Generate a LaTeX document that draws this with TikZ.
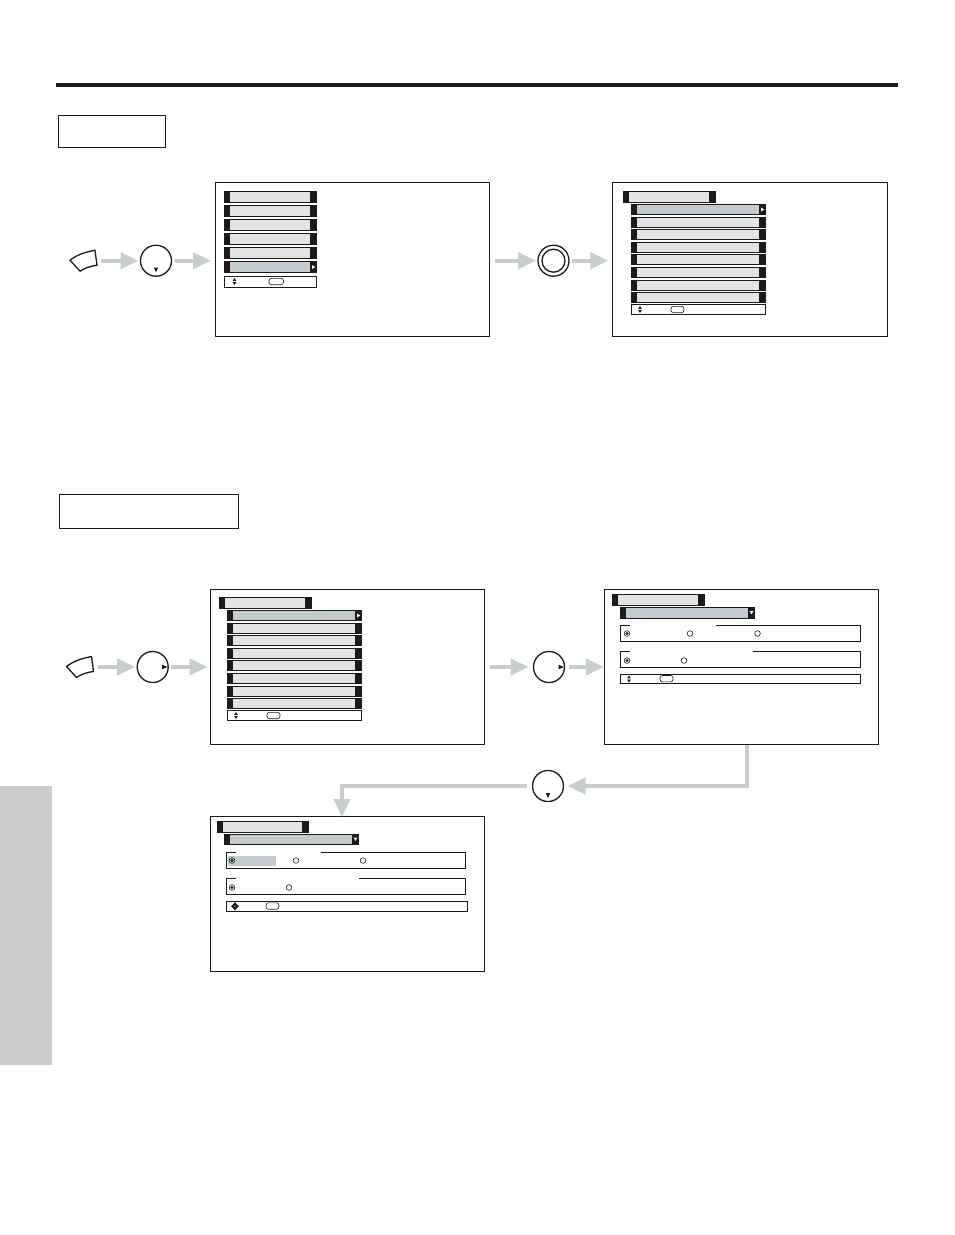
\documentclass[tikz,border=0pt]{standalone}
\usetikzlibrary{arrows.meta}
\definecolor{arrowgray}{HTML}{C9CCCD}
\definecolor{paneLgray}{HTML}{CBCBCB}
\definecolor{itemgray}{HTML}{E2E3E4}
\definecolor{selgray}{HTML}{C5CACC}
\definecolor{inkblack}{HTML}{1C1A1B}
\tikzset{
  every node/.style={inner sep=0pt,outer sep=0pt},
  screenbox/.style={draw=inkblack,line width=1pt,anchor=north west},
  labelbox/.style={draw=inkblack,line width=0.8pt,anchor=north west},
  dial/.style={circle,draw=inkblack,line width=1.3pt,minimum size=31pt},
  remotebtn/.style={minimum width=27pt,minimum height=21pt},
  garrow/.style={draw=arrowgray,line width=4pt,-{Triangle[length=18pt,width=16pt]}},
  thinbox/.style={draw=inkblack,line width=0.8pt},
  tinymark/.style={fill=inkblack},
}
% outer bar: x0,y0,x1,y1,inner colour
\newcommand{\mbar}[5]{%
  \fill[inkblack] (#1,#2) rectangle (#3,#4);
  \fill[#5] (#1+6,#2+1) rectangle (#3-7,#4-1);
}
\newcommand{\rmark}[2]{\fill[white] (#1-1.5,#2-2) -- (#1+1.8,#2) -- (#1-1.5,#2+2) -- cycle;}
\newcommand{\dmark}[2]{\fill[white] (#1-2,#2-1.5) -- (#1+2,#2-1.5) -- (#1,#2+1.8) -- cycle;}
\newcommand{\updown}[2]{%
  \fill[tinymark] (#1-1.8,#2-0.7) -- (#1+1.8,#2-0.7) -- (#1,#2-3.5) -- cycle;
  \fill[tinymark] (#1-1.8,#2+0.7) -- (#1+1.8,#2+0.7) -- (#1,#2+3.5) -- cycle;}
\newcommand{\okoval}[3]{\draw[inkblack,line width=0.6pt,rounded corners=2.5pt] (#1,#2-3.2) rectangle (#1+#3,#2+3.2);}
\newcommand{\radiooff}[2]{\draw[inkblack,line width=0.6pt] (#1,#2) circle (2.8);}
\newcommand{\radioon}[2]{\draw[inkblack,line width=0.6pt] (#1,#2) circle (2.8);\fill[inkblack] (#1,#2) circle (1.7);}
\newcommand{\groupbox}[6]{\draw[thinbox] (#5,#2) -- (#1,#2) -- (#1,#4) -- (#3,#4) -- (#3,#2) -- (#6,#2);}
\newcommand{\remotekey}[2]{%
  \node[remotebtn] (#1) at #2 {};
  \draw[inkblack,line width=1.3pt,line join=round] ([shift={(-13.5,-0.5)}]#1.center)
    .. controls ([shift={(-6,-6.5)}]#1.center) and ([shift={(4,-9)}]#1.center) .. ([shift={(11.5,-10.5)}]#1.center)
    -- ([shift={(13.5,4.5)}]#1.center)
    .. controls ([shift={(6,5.5)}]#1.center) and ([shift={(1,7.5)}]#1.center) .. ([shift={(-3.5,10.5)}]#1.center)
    -- cycle;}
\begin{document}
\begin{tikzpicture}[x=1pt,y=-1pt]
\useasboundingbox (0,0) rectangle (954,1235);
\fill[white] (0,0) rectangle (954,1235);
% page furniture
\fill[paneLgray] (0,786) rectangle (52,1065);
\fill[inkblack] (56,83) rectangle (898,87);
\node[labelbox,minimum width=107pt,minimum height=32.5pt] (label1) at (58,115) {};
\node[labelbox,minimum width=179pt,minimum height=34pt] (label2) at (59,494) {};
% screens
\node[screenbox,minimum width=274pt,minimum height=153.5pt] (s1) at (215.5,182.5) {};
\node[screenbox,minimum width=274.5pt,minimum height=153.5pt] (s2) at (612.8,182.5) {};
\node[screenbox,minimum width=274pt,minimum height=154.5pt] (s3) at (210.5,589.5) {};
\node[screenbox,minimum width=273.8pt,minimum height=154.5pt] (s4) at (604.5,589.5) {};
\node[screenbox,minimum width=274pt,minimum height=154.5pt] (s5) at (210.5,816.5) {};
% screen 1 contents
\foreach \y in {191,205,219,233,247}{\mbar{224}{\y}{317}{\y+12}{itemgray}}
\mbar{224}{261}{317}{273}{selgray}
\rmark{313.5}{267}
\draw[thinbox] (224.5,276) rectangle (316.5,287);
\updown{234.5}{281.5}
\okoval{269}{281.5}{14.5}
% menu list used by screens 2 and 3
\foreach \dx/\dy in {0/0,-404/406}{
\begin{scope}[shift={(\dx,\dy)}]
  \mbar{623}{191}{716}{203}{itemgray}
  \mbar{631}{204}{766}{215}{selgray}
  \rmark{762.5}{209.5}
  \foreach \y/\yy in {217/227.5,229/240,242/252.5,254/265,267/277.5,280/290.5,292/302.5}{\mbar{631}{\y}{766}{\yy}{itemgray}}
  \draw[thinbox] (631.5,304.5) rectangle (765.5,314.5);
  \updown{640}{309.5}
  \okoval{671}{309.5}{13}
\end{scope}}
% screen 4 contents
\mbar{612}{594}{705}{606}{itemgray}
\mbar{620}{607}{755}{618.5}{selgray}
\dmark{751.5}{612.5}
\groupbox{620.5}{625.5}{860}{641.5}{630}{716}
\radioon{627}{633.5}\radiooff{690}{633.5}\radiooff{757.5}{633.5}
\groupbox{620.5}{651.5}{860}{667}{630}{753}
\radioon{627}{660.5}\radiooff{684}{660.5}
\draw[thinbox] (620.5,674.5) rectangle (860,683.5);
\updown{629}{679}
\okoval{660}{678.7}{13}
% screen 5 contents
\mbar{217}{821}{309}{833}{itemgray}
\mbar{224}{834}{359}{844.5}{selgray}
\dmark{355.5}{839}
\fill[selgray] (228,856) rectangle (276,866);
\groupbox{226.5}{852}{465.5}{868.5}{236}{321}
\radioon{232}{860.5}\radiooff{296}{860.5}\radiooff{363}{860.5}
\groupbox{226.5}{878.5}{465.5}{894.5}{236}{359}
\radioon{232}{887.5}\radiooff{289}{887.5}
\draw[thinbox] (226.5,901.5) rectangle (467,911);
\fill[tinymark] (235,902) -- (237,904.5) -- (239,906.2) -- (237,908) -- (235,910.5) -- (233,908) -- (231,906.2) -- (233,904.5) -- cycle;
\fill[white] (235,906.2) circle (0.7);
\okoval{266}{906}{13}
% controls
\remotekey{remote1}{(83.5,260.7)}
\node[dial] (dial1) at (156,260.7) {};
\fill[tinymark] (153.7,267.5) -- (158.3,267.5) -- (156,272) -- cycle;
\node[dial] (dial2) at (553.5,260.7) {};
\node[circle,draw=inkblack,line width=1.3pt,minimum size=23pt] (dial2in) at (553.5,260.7) {};
\remotekey{remote2}{(80,667)}
\node[dial] (dial3) at (152.7,667) {};
\fill[tinymark] (162,664.7) -- (162,669.3) -- (167.5,667) -- cycle;
\node[dial] (dial4) at (549,667) {};
\fill[tinymark] (558.5,664.7) -- (558.5,669.3) -- (564,667) -- cycle;
\node[dial] (dial5) at (548,786) {};
\fill[tinymark] (545.7,793) -- (550.3,793) -- (548,798) -- cycle;
\coordinate (c4) at (747,744.5);
\coordinate (c5) at (342,817);
% connectors
\draw[garrow,shorten <=4pt,shorten >=2pt] (remote1) -- (dial1);
\draw[garrow,shorten <=3pt,shorten >=4.5pt] (dial1) -- (dial1 -| s1.west);
\draw[garrow,shorten <=5pt,shorten >=2pt] (dial1 -| s1.east) -- (dial2);
\draw[garrow,shorten <=3pt,shorten >=4.5pt] (dial2) -- (dial2 -| s2.west);
\draw[garrow,shorten <=4pt,shorten >=2pt] (remote2) -- (dial3);
\draw[garrow,shorten <=3pt,shorten >=3pt] (dial3) -- (dial3 -| s3.west);
\draw[garrow,shorten <=5pt,shorten >=5pt] (dial3 -| s3.east) -- (dial4);
\draw[garrow,shorten <=4pt,shorten >=0.5pt] (dial4) -- (dial4 -| s4.west);
\draw[garrow,shorten >=4pt] (c4) |- (dial5);
\draw[garrow,shorten <=6pt,shorten >=0pt] (dial5) -| (c5);
\end{tikzpicture}
\end{document}
